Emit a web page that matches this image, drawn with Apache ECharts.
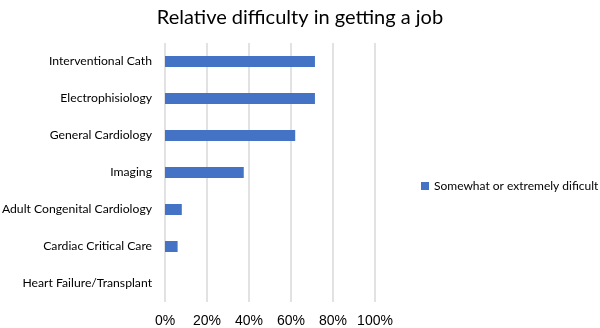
<!DOCTYPE html>
<html><head><meta charset="utf-8">
<script src="https://cdn.jsdelivr.net/npm/echarts@6/dist/echarts.min.js"></script>
<style>html,body{margin:0;padding:0;background:#fff}#c{width:600px;height:328px}</style>
</head><body><div id="c"></div>
<script>
const categories = ["Heart Failure/Transplant","Cardiac Critical Care","Adult Congenital Cardiology","Imaging","General Cardiology","Electrophisiology","Interventional Cath"];
const values = [0, 6, 8, 37.5, 62, 71.4, 71.4];
const seriesName = "Somewhat or extremely dificult";
const titleText = "Relative difficulty in getting a job";
const font = "Lato, 'Open Sans', sans-serif";
const chart = echarts.init(document.getElementById('c'), null, {renderer:'canvas'});
chart.setOption({
  animation:false,
  title:{text:titleText,left:'center',top:3,textStyle:{fontFamily:font,fontSize:20,fontWeight:'normal',color:'#000'}},
  legend:{data:[seriesName],orient:'vertical',left:416,top:175,itemWidth:8,itemHeight:8,itemGap:4,icon:'rect',
    textStyle:{fontFamily:font,fontSize:12,color:'#000'}},
  grid:{left:165,right:225,top:43,bottom:26,containLabel:false,outerBoundsMode:'none'},
  xAxis:{type:'value',min:0,max:100,interval:20,
    axisLabel:{formatter:'{value}%',fontFamily:"'Liberation Sans', Arial, sans-serif",fontSize:14,color:'#000',margin:12},
    splitLine:{lineStyle:{color:'#d9d9d9',width:1.5}},axisLine:{show:false},axisTick:{show:false}},
  yAxis:{type:'category',data:categories,
    axisLabel:{fontFamily:font,fontSize:12.2,color:'#000',margin:13},
    axisLine:{show:false},axisTick:{show:false}},
  series:[{name:seriesName,type:'bar',data:values,barWidth:11,itemStyle:{color:'#4472C4'}}]
});
</script></body></html>
